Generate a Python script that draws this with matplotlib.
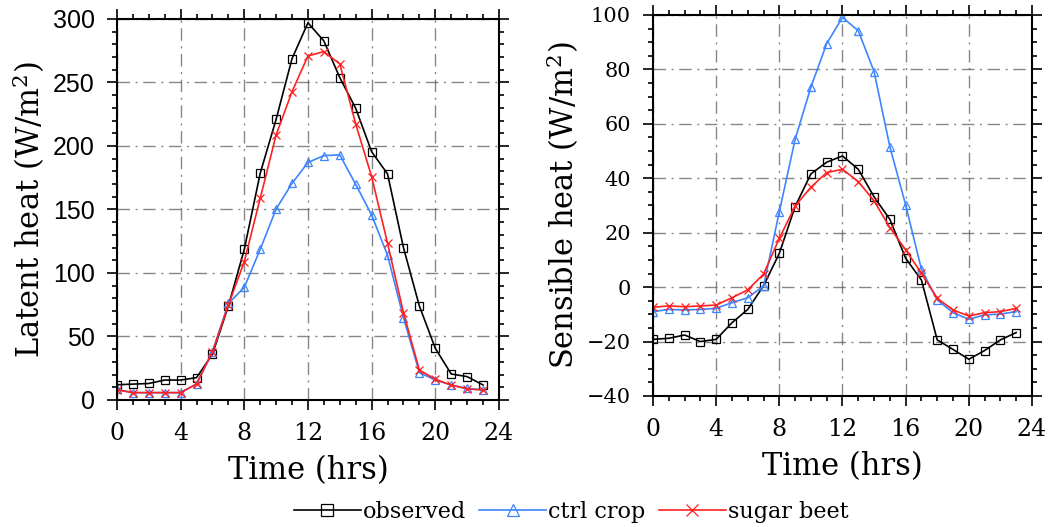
import matplotlib
matplotlib.use("Agg")
import matplotlib.pyplot as plt
from matplotlib.ticker import MultipleLocator

plt.rcParams["mathtext.fontset"] = "dejavuserif"

hours = list(range(24))

# latent heat (W/m2)
latent_obs = [12, 12.5, 13, 15.7, 15.7, 17.6, 36, 74, 118.6, 178.5, 221, 268.8,
              297, 282.7, 253.8, 229.7, 195.5, 178, 120, 74, 40.7, 20.5, 18.4, 11.8]
latent_ctrl = [8.4, 5.8, 5.8, 5.8, 5.8, 12.6, 38, 76, 88.7, 118.6, 150.4, 170.6,
               187, 192.4, 193, 169.8, 145.7, 114, 64.8, 21.5, 15.7, 11.8, 9.2, 7.9]
latent_beet = [7.9, 5.8, 5.8, 5.8, 5.8, 12.6, 38, 74.8, 109, 158.8, 208.7, 242.8,
               270.9, 274.3, 264.6, 217.3, 175.9, 123.4, 68.8, 23.6, 16.3, 11.8, 8.7, 7.9]

# sensible heat (W/m2)
sens_obs = [-19.2, -18.8, -17.6, -20, -19.2, -13.1, -8.2, 0.5, 12.4, 29.6, 41.6, 45.9,
            48.2, 43.3, 33.2, 24.9, 10.6, 2.6, -19.4, -22.9, -26.5, -23.3, -19.4, -16.7]
sens_ctrl = [-9, -8.2, -8.4, -8.2, -7.8, -5.7, -3.9, 0.4, 27.7, 54.3, 73.5, 89.5,
             99.1, 94.2, 79.2, 51.6, 30.2, 6.5, -4.7, -9.4, -11.8, -10.2, -9.9, -9]
sens_beet = [-7.4, -6.9, -7.2, -6.9, -6.6, -3.9, -1, 4.8, 17.9, 29.8, 36.7, 42.1,
             43.3, 38.8, 31.7, 21.9, 13.7, 5.1, -4.1, -8.4, -10.6, -9.4, -9, -7.8]

labels = ["observed", "ctrl crop", "sugar beet"]
colors = ["black", "#3d85ff", "#ff2020"]
markers = ["s", "^", "x"]

SERIF = "DejaVu Serif"
SANS = "Liberation Sans"


def style_axes(ax, ylim, ymajor, yminor, yfont, ysize, ypad):
    ax.set_xlim(0, 24)
    ax.set_ylim(*ylim)
    ax.xaxis.set_major_locator(MultipleLocator(4))
    ax.xaxis.set_minor_locator(MultipleLocator(1))
    ax.yaxis.set_major_locator(MultipleLocator(ymajor))
    ax.yaxis.set_minor_locator(MultipleLocator(yminor))
    ax.tick_params(which="both", direction="out", top=True, right=True,
                   width=1.2)
    ax.tick_params(which="major", length=7)
    ax.tick_params(which="minor", length=3.5)
    ax.tick_params(axis="x", which="major", labelsize=17, pad=9)
    ax.tick_params(axis="y", which="major", labelsize=ysize, pad=ypad)
    for lab in ax.get_xticklabels():
        lab.set_fontfamily(SERIF)
    for lab in ax.get_yticklabels():
        lab.set_fontfamily(yfont)
    ax.grid(which="major", color="#555555", alpha=0.7, linewidth=1.0,
            linestyle=(0, (9, 4, 1.5, 4)))
    for sp in ax.spines.values():
        sp.set_linewidth(1.5)
    ax.set_xlabel("Time (hrs)", fontsize=22, fontfamily=SERIF, labelpad=7)


fig = plt.figure(figsize=(10.48, 5.27), dpi=100)
ax_l = fig.add_axes([0.1116, 0.241, 0.3645, 0.723])
ax_r = fig.add_axes([0.6231, 0.2486, 0.3616, 0.723])

handles = []
for vals, lab, c, m in zip([latent_obs, latent_ctrl, latent_beet], labels, colors, markers):
    h, = ax_l.plot(hours, vals, color=c, marker=m, markersize=6, linewidth=1.2,
                   markerfacecolor="none", markeredgewidth=0.9, label=lab)
    handles.append(h)
for vals, c, m in zip([sens_obs, sens_ctrl, sens_beet], colors, markers):
    ax_r.plot(hours, vals, color=c, marker=m, markersize=6, linewidth=1.2,
              markerfacecolor="none", markeredgewidth=0.9)

style_axes(ax_l, (0, 300), 50, 10, SANS, 18, 9)
style_axes(ax_r, (-40, 100), 20, 5, SERIF, 15, 9)
ax_l.set_ylabel("Latent heat (W/m$^2$)", fontsize=22, fontfamily=SERIF, labelpad=4)
ax_r.set_ylabel("Sensible heat (W/m$^2$)", fontsize=22, fontfamily=SERIF, labelpad=4)

fig.legend(handles=handles, loc="center", bbox_to_anchor=(0.545, 0.028), ncol=3,
           frameon=False, prop={"family": SERIF, "size": 16}, handlelength=3.0,
           handletextpad=0.1, columnspacing=0.6, markerscale=1.5)

fig.savefig("out.png", dpi=100)
